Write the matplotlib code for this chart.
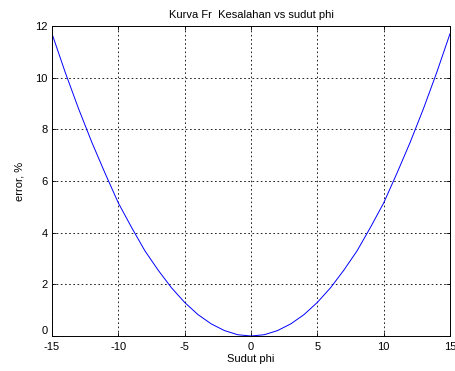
import matplotlib
matplotlib.use('Agg')
import matplotlib.pyplot as plt

phi = [-15, -14, -13, -12, -11, -10, -9, -8, -7, -6, -5, -4, -3, -2, -1,
       0, 1, 2, 3, 4, 5, 6, 7, 8, 9, 10, 11, 12, 13, 14, 15]
err = [11.7, 10.2, 8.8, 7.5, 6.3, 5.15, 4.2, 3.3, 2.55, 1.87, 1.3, 0.83, 0.47, 0.21, 0.05,
       0.0, 0.05, 0.21, 0.47, 0.83, 1.3, 1.87, 2.55, 3.3, 4.2, 5.15, 6.3, 7.5, 8.8, 10.2, 11.7]

xticks = [-15, -10, -5, 0, 5, 10, 15]
yticks = [0, 2, 4, 6, 8, 10, 12]

plt.rcParams['font.family'] = ['Liberation Sans', 'DejaVu Sans']
plt.rcParams['font.size'] = 8
plt.rcParams['axes.unicode_minus'] = False

fig = plt.figure(figsize=(4.55, 3.71), dpi=100)
ax = fig.add_axes([0.1143, 0.0943, 0.8747, 0.8357])

ax.plot(phi, err, color='#0000ff', linewidth=0.7)

ax.set_xlim(-15, 15)
ax.set_ylim(0, 12)
ax.set_xticks(xticks)
ax.set_yticks(yticks)
ax.tick_params(direction='in', length=3, width=0.6, top=True, right=True)
ax.tick_params(axis='x', pad=4.5)
ax.tick_params(axis='y', pad=3)
# lift the "0" a touch so it does not collide with "-15"
ax.get_yticklabels()[0].set_verticalalignment('bottom')
ax.grid(True, color='black', linestyle=(0, (2, 3)), linewidth=0.6)
for s in ax.spines.values():
    s.set_linewidth(0.7)

ax.set_title('Kurva Fr  Kesalahan vs sudut phi', fontsize=8, pad=6)
ax.set_xlabel('Sudut phi', labelpad=1)
ax.set_ylabel('error, %', labelpad=8)

fig.savefig('out.png', dpi=100)
